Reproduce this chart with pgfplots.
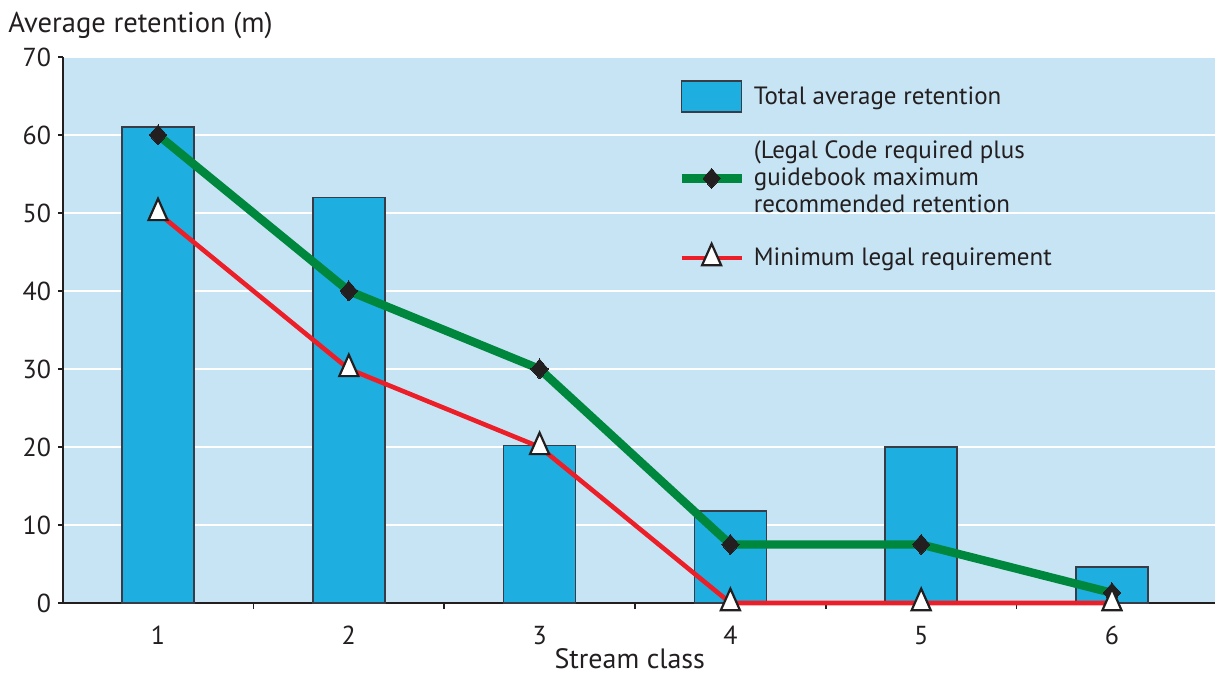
\documentclass[border=0pt]{standalone}
\usepackage{pgfplots}
\pgfplotsset{compat=1.18}
\usepackage{fontspec}
\setmainfont{PT Sans}
\definecolor{bgblue}{RGB}{199,228,244}
\definecolor{barblue}{RGB}{30,174,223}
\definecolor{bardark}{RGB}{55,60,70}
\definecolor{lgreen}{RGB}{0,135,62}
\definecolor{lred}{RGB}{236,30,40}
\definecolor{ink}{RGB}{35,31,32}
\pgfplotsset{
    barlegend/.style={legend image code/.code={\draw[fill=barblue, draw=bardark, line width=0.8pt] (0pt,-7.5pt) rectangle (30pt,8pt);}},
    linelegend/.style={legend image code/.code={\draw[##1, mark repeat=2, mark phase=2] plot coordinates {(0pt,0pt)(15pt,0pt)(30pt,0pt)};}},
}
\begin{document}
\begin{tikzpicture}
\begin{axis}[
    set layers=standard,
    clip=false,
    width=576pt, height=273pt, scale only axis,
    xmin=0.502, xmax=6.54, ymin=0, ymax=70,
    axis lines*=left,
    axis line style={line width=1.2pt, color=ink},
    axis background/.style={fill=bgblue},
    font=\fontsize{13}{15}\selectfont,
    /pgf/number format/assume math mode=true,
    xtick={1,2,3,4,5,6},
    minor xtick={0.5,1.5,2.5,3.5,4.5,5.5},
    ytick={0,10,...,70},
    tick align=outside,
    major tick length=2.5pt,
    minor tick length=3pt,
    x tick style={draw=none},
    minor x tick style={draw=ink, line width=0.8pt},
    y tick style={draw=ink, line width=0.8pt},
    xticklabel style={yshift=-5.5pt, text=ink},
    yticklabel style={text=ink},
    ymajorgrids=true,
    major grid style={white, line width=1pt},
    xlabel={Stream class},
    xlabel style={at={(axis description cs:0.492,0)}, anchor=base, yshift=-32.5pt, inner sep=0pt,
        font=\fontsize{14}{16}\selectfont, text=ink},
    ylabel={Average retention (m)},
    ylabel style={rotate=-90, at={(axis description cs:0,1)}, anchor=base west, inner sep=0pt,
        xshift=-27.5pt, yshift=12pt, font=\fontsize{14.3}{16}\selectfont, text=ink},
    legend style={at={(axis description cs:0.533,0.958)}, anchor=north west,
        draw=none, fill=none, inner sep=0pt, row sep=12pt,
        font=\fontsize{12.5}{13.5}\selectfont, text=ink,
        cells={anchor=west, align=left},
        /tikz/every odd column/.append style={column sep=2pt}},
    legend cell align=left,
]
% Total average retention
\addplot[ybar, bar width=36pt, fill=barblue, draw=bardark, line width=0.8pt, barlegend]
    coordinates {(1,61) (2,52) (3,20.2) (4,11.8) (5,20) (6,4.6)};
% Legal code plus guidebook maximum
\addplot[lgreen, line width=4.2pt, mark=diamond*, mark size=5pt,
    mark options={solid, fill=ink, draw=ink, line width=0pt, xscale=1.15}, linelegend]
    coordinates {(1,60) (2,40) (3,30) (4,7.5) (5,7.5) (6,1.3)};
% Minimum legal requirement
\addplot[lred, line width=2.3pt, mark=triangle*, mark size=5.5pt,
    mark options={solid, fill=white, draw=ink, line width=1.1pt, yscale=1.3}, linelegend]
    coordinates {(1,50) (2,30) (3,20) (4,0) (5,0) (6,0)};
\legend{Total average retention,
    {(Legal Code required plus\\guidebook maximum\\recommended retention},
    Minimum legal requirement}
\end{axis}
\pgfresetboundingbox
\path[use as bounding box] ([xshift=-31.5pt,yshift=-36pt]current axis.south west) rectangle ([yshift=28.5pt]current axis.north east);
\end{tikzpicture}
\end{document}
